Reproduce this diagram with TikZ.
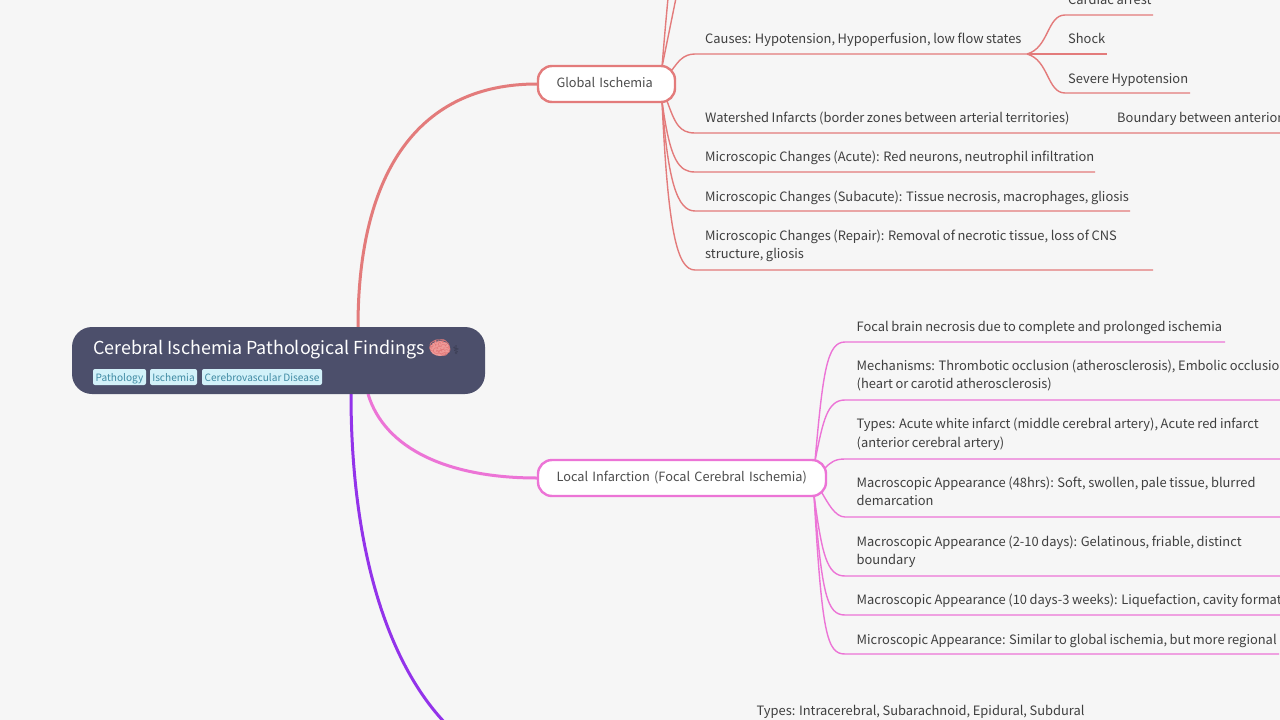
\documentclass[tikz,border=0pt]{standalone}
\usepackage{fontspec}
\setmainfont[WordSpace=0.9]{Noto Sans CJK SC}
\newfontfamily\emojifont{Noto Emoji}
\newfontfamily\symbfont{DejaVu Sans}
\usetikzlibrary{backgrounds}
\definecolor{pagegray}{HTML}{F6F6F6}
\definecolor{rootblue}{HTML}{4C4F6B}
\definecolor{globalred}{HTML}{E37B7B}
\definecolor{localpink}{HTML}{EC74D6}
\definecolor{hemopurple}{HTML}{9333EA}
\definecolor{tagfill}{HTML}{D2F1F9}
\definecolor{tagtext}{HTML}{3F8AA3}
\definecolor{leafgray}{HTML}{3F3F3F}
\definecolor{brainpink}{HTML}{EE9A98}
\tikzset{
	leaf/.style={anchor=north west, inner sep=0pt, align=left, text=leafgray, text height=11pt, text depth=4pt, font=\fontsize{12.9}{18.6}\selectfont},
	branch/.style={draw, fill=white, rounded corners=14pt, line width=2.4pt, inner ysep=0pt, inner xsep=18.5pt, minimum height=36pt, align=left, text=black!70, text height=11pt, text depth=5pt, font=\fontsize{12.75}{18}\selectfont},
	tag/.style={fill=tagfill, rounded corners=2pt, inner sep=0pt, minimum height=16pt, text=tagtext, text height=10pt, text depth=2pt, font=\fontsize{10.1}{13}\selectfont},
	redline/.style={globalred, line width=1.4pt},
	pinkline/.style={localpink, line width=1.4pt},
}

\begin{document}
\begin{tikzpicture}[x=1pt, y=-1pt]
	\useasboundingbox (0,0) rectangle (1280,720);
	% root
	\node [fill=rootblue, rounded corners=20pt, minimum width=413pt, minimum height=67pt, inner sep=0pt] (root) at (278.5,360.5) {};
	\node [anchor=west, inner sep=0pt, text=white, font=\fontsize{17.9}{22}\selectfont] (title) at (93,349.5) {Cerebral Ischemia Pathological Findings};
	\fill [brainpink] (440,348.5) ellipse (10 and 7.5);
	\node [inner sep=0pt, text=globalred, font=\emojifont\fontsize{19}{22}\selectfont] (brain) at (440,348.5) {🧠};
	\node [inner sep=0pt, text=rootblue!70!black, font=\symbfont\fontsize{12}{16}\selectfont] (staff) at (456,350) {⚕};
	\node [tag, minimum width=53pt] (tagpath) at (119.5,377) {Pathology};
	\node [tag, minimum width=47pt] (tagisch) at (173.5,377) {Ischemia};
	\node [tag, minimum width=120pt] (tagcere) at (262,377) {Cerebrovascular Disease};
	% main branches
	\node [branch, draw=globalred, text width=100pt] (global) at (606.5,84) {\mbox{Global Ischemia}};
	\node [branch, draw=localpink, text width=251pt] (local) at (682,478) {\mbox{Local Infarction (Focal Cerebral Ischemia)}};
	% global ischemia leaves
	\node [leaf] (causes) at (705,32) {Causes: Hypotension, Hypoperfusion, low flow states};
	\node [leaf] (cardiac) at (1068,-7) {Cardiac arrest};
	\node [leaf] (shock) at (1068,32) {Shock};
	\node [leaf] (severe) at (1068,72) {Severe Hypotension};
	\node [leaf] (watershed) at (705,111) {Watershed Infarcts (border zones between arterial territories)};
	\node [leaf] (boundary) at (1117,111) {Boundary between anterior};
	\node [leaf] (acute) at (705,150) {Microscopic Changes (Acute): Red neurons, neutrophil infiltration};
	\node [leaf] (subacute) at (705,190) {Microscopic Changes (Subacute): Tissue necrosis, macrophages, gliosis};
	\node [leaf] (repair) at (705,247.6) {Microscopic Changes (Repair): Removal of necrotic tissue, loss of CNS\\structure, gliosis};
	% local infarction leaves
	\node [leaf] (focal) at (856.5,320) {Focal brain necrosis due to complete and prolonged ischemia};
	\node [leaf] (mech) at (856.5,377.6) {Mechanisms: Thrombotic occlusion (atherosclerosis), Embolic occlusion\\(heart or carotid atherosclerosis)};
	\node [leaf] (types) at (856.5,436) {Types: Acute white infarct (middle cerebral artery), Acute red infarct\\(anterior cerebral artery)};
	\node [leaf] (macroa) at (856.5,494.6) {Macroscopic Appearance (48hrs): Soft, swollen, pale tissue, blurred\\demarcation};
	\node [leaf] (macrob) at (856.5,553.6) {Macroscopic Appearance (2-10 days): Gelatinous, friable, distinct\\boundary};
	\node [leaf] (macroc) at (856.5,593.5) {Macroscopic Appearance (10 days-3 weeks): Liquefaction, cavity formation};
	\node [leaf] (micro) at (856.5,633) {Microscopic Appearance: Similar to global ischemia, but more regional};
	\node [leaf] (hemotypes) at (756.5,704) {Types: Intracerebral, Subarachnoid, Epidural, Subdural};
	% connector ends
	\coordinate (rootred) at (358,327);
	\coordinate (rootpink) at (368,394);
	\coordinate (rootpurple) at (351,394);
	\coordinate (hemo) at (560,775);
	\coordinate (gtop) at (662,67);
	\coordinate (gbot) at (662,101);
	\coordinate (gcauses) at (672,70);
	\coordinate (gwater) at (667,101);
	\coordinate (offa) at (669,-12);
	\coordinate (offb) at (678,-12);
	\coordinate (causeshub) at (1027,54);
	\coordinate (ltop) at (815,461);
	\coordinate (lbot) at (814,495);
	\begin{pgfonlayer}{background}
		\fill [pagegray] (0,0) rectangle (1280,720);
		% root to branches
		\draw [globalred, line width=3pt] (rootred) .. controls (358,170) and (420,84) .. (global.west);
		\draw [localpink, line width=3pt] (rootpink) .. controls (385,450) and (450,478) .. (local.west);
		\draw [hemopurple, line width=3pt] (rootpurple) .. controls (351,630) and (436,775) .. (hemo);
		% global ischemia
		\draw [redline] (gtop) .. controls +(2,-25) and +(-2,20) .. (offa);
		\draw [redline] (gtop) .. controls +(5,-25) and +(-5,25) .. (offb);
		\draw [redline] (gcauses) .. controls +(6,-8) and +(-12,0) .. (695,54) -- (causeshub);
		\draw [redline] (causeshub) .. controls +(22,-6) and +(-18,0) .. (1065,15) -- (1153,15);
		\draw [redline] (causeshub) -- (1107,54);
		\draw [redline] (causeshub) .. controls +(22,6) and +(-18,0) .. (1065,93) -- (1190,93);
		\draw [redline] (gwater) .. controls +(8,22) and +(-16,0) .. (695,133) -- (1285,133);
		\draw [redline] (gbot) .. controls +(8,60) and +(-16,0) .. (695,172) -- (1095,172);
		\draw [redline] (gbot) .. controls +(6,80) and +(-18,0) .. (695,211) -- (1130,211);
		\draw [redline] (gbot) .. controls +(6,130) and +(-18,0) .. (695,270) -- (1153,270);
		% local infarction
		\draw [pinkline] (ltop) .. controls +(8,-90) and +(-18,0) .. (845,342) -- (1225,342);
		\draw [pinkline] (ltop) .. controls +(8,-40) and +(-18,0) .. (845,400) -- (1285,400);
		\draw [pinkline] (825,468) .. controls +(6,-6) and +(-10,0) .. (845,459) -- (1285,459);
		\draw [pinkline] (822,493) .. controls +(6,10) and +(-10,0) .. (845,517) -- (1285,517);
		\draw [pinkline] (lbot) .. controls +(8,60) and +(-18,0) .. (845,576) -- (1285,576);
		\draw [pinkline] (lbot) .. controls +(8,100) and +(-18,0) .. (845,615) -- (1285,615);
		\draw [pinkline] (lbot) .. controls +(8,140) and +(-18,0) .. (845,654) -- (1279,654);
	\end{pgfonlayer}
\end{tikzpicture}
\end{document}
